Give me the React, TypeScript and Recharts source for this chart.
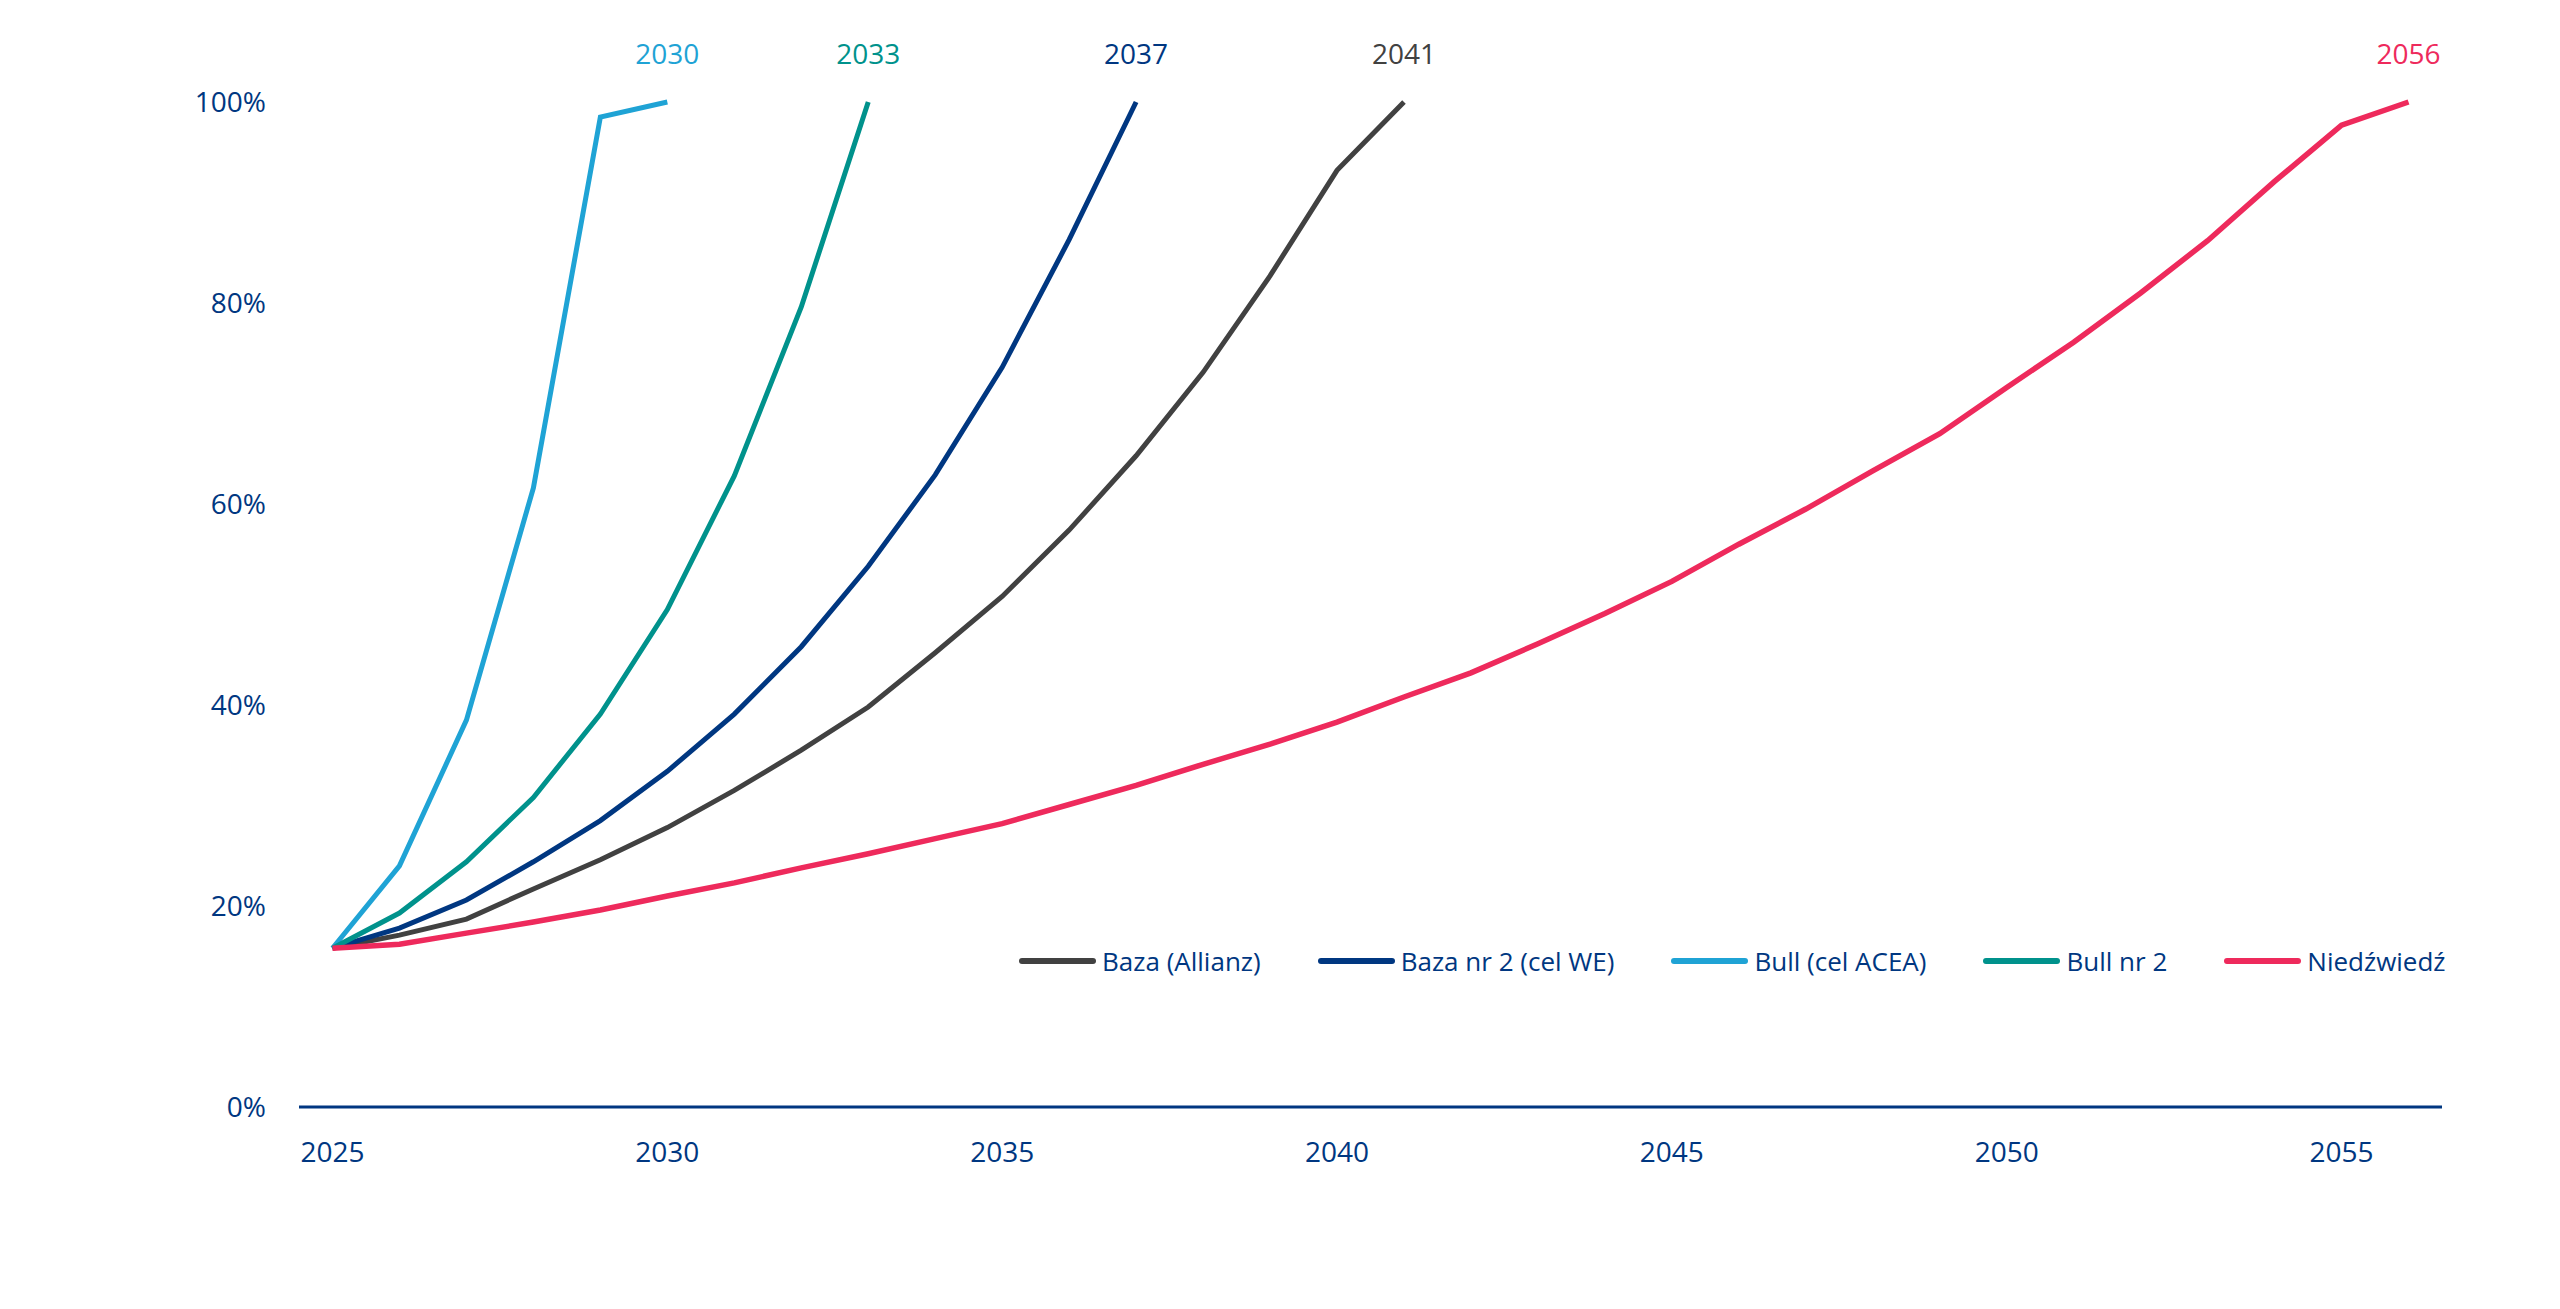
import React from "react";
import { LineChart, Line, XAxis, YAxis, Legend } from "recharts";

// Years on the horizontal axis
const years: number[] = Array.from({ length: 32 }, (_, i) => 2025 + i);

// Share (%) per scenario, starting 2025; each series stops when it reaches 100%
const bazaAllianz = [15.8, 17.1, 18.7, 21.7, 24.6, 27.8, 31.5, 35.5, 39.8, 45.2, 50.8, 57.4, 64.8, 73.1, 82.7, 93.2, 100];
const bazaWe = [15.8, 17.8, 20.6, 24.4, 28.5, 33.4, 39.1, 45.8, 53.8, 62.9, 73.6, 86.3, 100];
const bullAcea = [15.8, 24.0, 38.5, 61.6, 98.5, 100];
const bullNr2 = [15.8, 19.3, 24.4, 30.8, 39.1, 49.5, 62.8, 79.6, 100];
const niedzwiedz = [
  15.8, 16.2, 17.3, 18.4, 19.6, 21.0, 22.3, 23.8, 25.2, 26.7, 28.2, 30.1, 32.0, 34.1, 36.1, 38.3,
  40.8, 43.2, 46.1, 49.1, 52.3, 56.0, 59.5, 63.3, 67.0, 71.6, 76.1, 81.0, 86.2, 92.1, 97.7, 100,
];

const yTicks = [0, 20, 40, 60, 80, 100];
const xTicks = [2025, 2030, 2035, 2040, 2045, 2050, 2055];

const series = [
  { key: "bazaAllianz", name: "Baza (Allianz)", color: "#414141", values: bazaAllianz, width: 5 },
  { key: "bazaWe", name: "Baza nr 2 (cel WE)", color: "#003781", values: bazaWe, width: 5 },
  { key: "bullAcea", name: "Bull (cel ACEA)", color: "#1FA3D5", values: bullAcea, width: 5 },
  { key: "bullNr2", name: "Bull nr 2", color: "#00928C", values: bullNr2, width: 5 },
  { key: "niedzwiedz", name: "Niedźwiedź", color: "#EE2A5C", values: niedzwiedz, width: 5.5 },
];

const data = years.map((year, i) => {
  const row: Record<string, number | undefined> = { year };
  series.forEach((s) => {
    row[s.key] = i < s.values.length ? s.values[i] : undefined;
  });
  return row;
});

const FONT = "'Open Sans', 'Noto Sans', sans-serif";
const NAVY = "#003781";

function endLabel(color: string, lastIndex: number) {
  return (props: any) => {
    const { x, y, index } = props;
    if (index !== lastIndex) return <g />;
    return (
      <text
        x={x}
        y={y - 48}
        dy="0.355em"
        textAnchor="middle"
        fill={color}
        fontSize={28}
        fontFamily={FONT}
      >
        {years[index]}
      </text>
    );
  };
}

function LegendContent(props: any) {
  const payload = props.payload || [];
  return (
    <div style={{ display: "flex", alignItems: "center", fontFamily: FONT }}>
      {payload.map((p: any) => (
        <div key={p.value} style={{ display: "flex", alignItems: "center", marginRight: 57 }}>
          <div
            style={{ width: 77, height: 6, borderRadius: 3, background: p.color, marginRight: 6 }}
          />
          <span style={{ fontSize: 26, color: NAVY, whiteSpace: "nowrap" }}>{p.value}</span>
        </div>
      ))}
    </div>
  );
}

export default function App() {
  return (
    <div style={{ background: "#fff" }}>
      <LineChart
        width={2544}
        height={1290}
        data={data}
        margin={{ top: 94, right: 110, bottom: 95, left: 0 }}
      >
        <XAxis
          dataKey="year"
          type="number"
          domain={[2024.5, 2056.5]}
          ticks={xTicks}
          tickLine={false}
          tickSize={0}
          tickMargin={35}
          axisLine={{ stroke: NAVY, strokeWidth: 3 }}
          tick={{ fill: NAVY, fontSize: 28, fontFamily: FONT }}
          height={60}
          interval={0}
        />
        <YAxis
          type="number"
          domain={[0, 100]}
          ticks={yTicks}
          tickFormatter={(v: number) => `${v}%`}
          tickLine={false}
          axisLine={false}
          tickSize={0}
          tickMargin={33}
          width={291}
          tick={{ fill: NAVY, fontSize: 28, fontFamily: FONT }}
          interval={0}
        />
        <Legend
          content={<LegendContent />}
          wrapperStyle={{ position: "absolute", left: 1011, top: 935, width: "auto", bottom: "auto" }}
        />
        {series.map((s) => (
          <Line
            key={s.key}
            type="linear"
            dataKey={s.key}
            name={s.name}
            stroke={s.color}
            strokeWidth={s.width}
            dot={false}
            activeDot={false}
            isAnimationActive={false}
            label={endLabel(s.color, s.values.length - 1)}
          />
        ))}
      </LineChart>
    </div>
  );
}
